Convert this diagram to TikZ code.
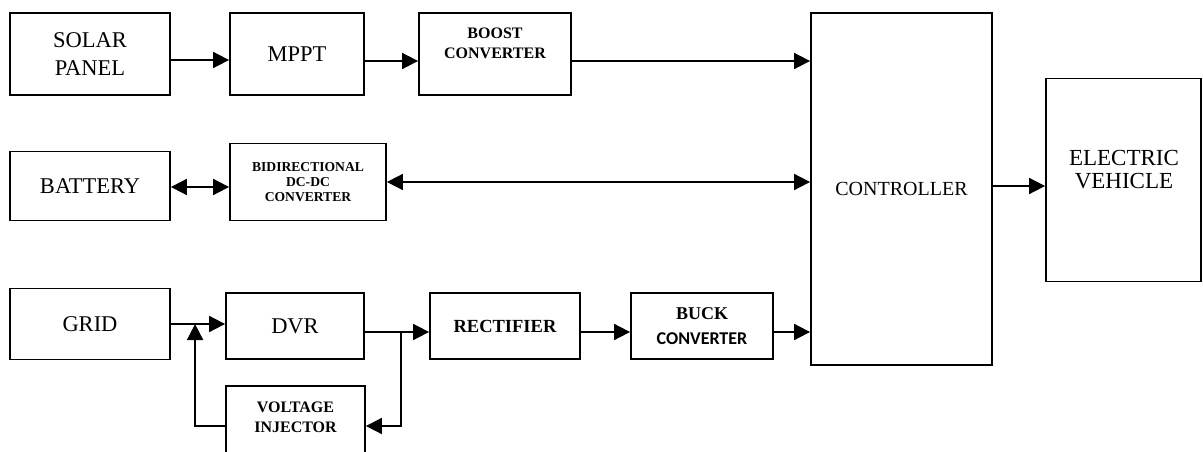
\documentclass[tikz,border=0pt]{standalone}
\usepackage{fontspec}
\setmainfont{Liberation Serif}
\newfontfamily\calibfont{Carlito}
\usetikzlibrary{arrows.meta,calc}
\tikzset{
  blk/.style={draw, line width=1.8pt, inner sep=0pt, align=center},
  arr/.style={line width=1.8pt, -{Triangle[length=16pt,width=16pt]}},
  darr/.style={line width=1.8pt, {Triangle[length=16pt,width=16pt]}-{Triangle[length=16pt,width=16pt]}},
  big/.style={font=\fontsize{22.5}{28}\selectfont},
  ctrltxt/.style={font=\fontsize{20}{24}\selectfont},
  evtxt/.style={font=\fontsize{23}{23}\selectfont, align=center},
  boldmid/.style={font=\bfseries\fontsize{16}{20}\selectfont, align=center},
  boldsmall/.style={font=\bfseries\fontsize{13.6}{15}\selectfont},
  rectxt/.style={font=\bfseries\fontsize{18.5}{22}\selectfont},
  bucktxt/.style={font=\bfseries\fontsize{18}{25}\selectfont},
}
\begin{document}
\begin{tikzpicture}[x=1pt,y=-1pt]
\fill[white] (0,0) rectangle (1203,452);
\clip (0,0) rectangle (1203,452);

% top row
\node[blk, big, minimum width=160, minimum height=82] (solar) at (90,54) {SOLAR\\PANEL};
\node[blk, big, minimum width=134, minimum height=82] (mppt) at (297,54) {MPPT};
\node[blk, minimum width=152, minimum height=82] (boost) at (495,54) {};
\node[boldmid] (boosttxt) at (495,43) {BOOST\\CONVERTER};

% controller and EV
\node[blk, ctrltxt, minimum width=181, minimum height=352] (ctrl) at (901.5,189) {CONTROLLER};
\node[blk, minimum width=155, minimum height=203] (ev) at (1123.5,180) {};
\node[evtxt] (evtxt) at (1124,170) {ELECTRIC\\VEHICLE};

% middle row
\node[blk, big, minimum width=160, minimum height=69] (battery) at (90,186) {BATTERY};
\node[blk, boldsmall, minimum width=156, minimum height=77] (bidir) at (308,182) {BIDIRECTIONAL\\DC-DC\\CONVERTER};

% bottom row
\node[blk, big, minimum width=160, minimum height=71] (grid) at (90,324) {GRID};
\node[blk, big, minimum width=138, minimum height=66] (dvr) at (295,326) {DVR};
\node[blk, rectxt, minimum width=150, minimum height=66] (rect) at (505,326) {RECTIFIER};
\node[blk, bucktxt, minimum width=142, minimum height=66] (buck) at (702,326) {BUCK\\{\calibfont\bfseries CONVERTER}};
\node[blk, minimum width=139, minimum height=80] (inj) at (295.5,426) {};
\node[boldmid] (injtxt) at (295.5,417) {VOLTAGE\\INJECTOR};

% connectors
\draw[arr] ([yshift=-6pt]solar.east) -- ([yshift=-6pt]mppt.west);
\draw[arr] ([yshift=-7pt]mppt.east) -- ([yshift=-7pt]boost.west);
\draw[arr] ([yshift=-7pt]boost.east) -- ([yshift=-7pt]boost.east -| ctrl.west);
\draw[darr] ([yshift=-1pt]battery.east) -- ([yshift=-1pt]battery.east -| bidir.west);
\draw[darr] (bidir.east) -- (bidir.east -| ctrl.west);
\draw[arr] ([yshift=-6pt]ev.west -| ctrl.east) -- ([yshift=-6pt]ev.west);

\draw[arr] (grid.east) -- (grid.east -| dvr.west);
\coordinate (j1) at ($(grid.east)!0.446!(grid.east -| dvr.west)$);
\draw[arr] (inj.west) -| (j1);
\draw[arr] ([yshift=-6pt]dvr.east) -- ([yshift=-6pt]rect.west);
\coordinate (j2) at ($([yshift=-6pt]dvr.east)!0.56!([yshift=-6pt]rect.west)$);
\draw[arr] (j2) |- (inj.east);
\draw[arr] ([yshift=-6pt]rect.east) -- ([yshift=-6pt]buck.west);
\draw[arr] ([yshift=-6pt]buck.east) -- ([yshift=-6pt]buck.east -| ctrl.west);
\end{tikzpicture}
\end{document}
